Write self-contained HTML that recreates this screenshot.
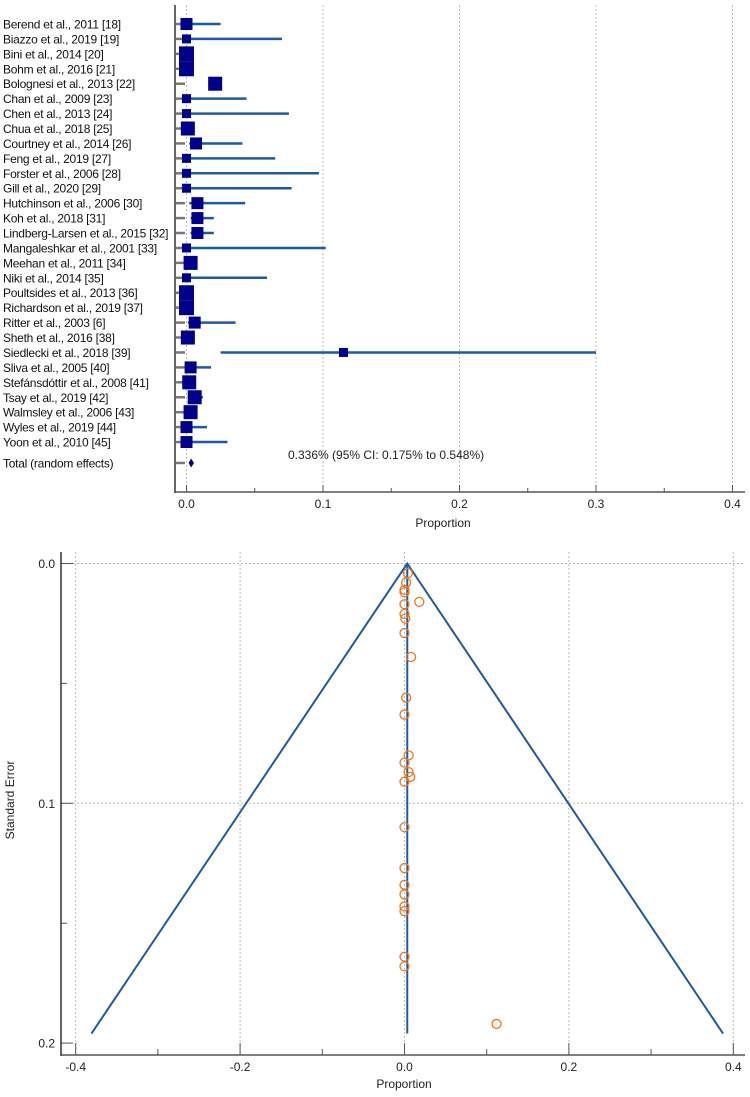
<!DOCTYPE html>
<html><head><meta charset="utf-8"><style>
html,body{margin:0;padding:0;background:#fff;}
svg{display:block;font-family:"Liberation Sans",Arial,sans-serif;}
</style></head><body>
<svg id="chart" width="750" height="1097" viewBox="0 0 750 1097">
<g id="forest"></g>
<g id="funnel"></g>
</svg>
<script>
// ---------- Forest plot data ----------
const studies = ["Berend et al., 2011 [18]","Biazzo et al., 2019 [19]","Bini et al., 2014 [20]","Bohm et al., 2016 [21]","Bolognesi et al., 2013 [22]","Chan et al., 2009 [23]","Chen et al., 2013 [24]","Chua et al., 2018 [25]","Courtney et al., 2014 [26]","Feng et al., 2019 [27]","Forster et al., 2006 [28]","Gill et al., 2020 [29]","Hutchinson et al., 2006 [30]","Koh et al., 2018 [31]","Lindberg-Larsen et al., 2015 [32]","Mangaleshkar et al., 2001 [33]","Meehan et al., 2011 [34]","Niki et al., 2014 [35]","Poultsides et al., 2013 [36]","Richardson et al., 2019 [37]","Ritter et al., 2003 [6]","Sheth et al., 2016 [38]","Siedlecki et al., 2018 [39]","Sliva et al., 2005 [40]","Stefánsdóttir et al., 2008 [41]","Tsay et al., 2019 [42]","Walmsley et al., 2006 [43]","Wyles et al., 2019 [44]","Yoon et al., 2010 [45]"];
const estimates = [0,0,0,0,0.021,0,0,0.001,0.007,0,0,0,0.008,0.008,0.008,0,0.003,0,0,0,0.006,0.001,0.115,0.003,0.002,0.006,0.003,0,0];
const lowerCI = [0,0,0,0,0.017,0,0,0,0.002,0,0,0,0.002,0.003,0.003,0,0.001,0,0,0,0.001,0,0.025,0.001,0,0.002,0.001,0,0];
const upperCI = [0.025,0.07,0.005,0.005,0.026,0.044,0.075,0.006,0.041,0.065,0.097,0.077,0.043,0.020,0.020,0.102,0.006,0.059,0.005,0.005,0.036,0.006,0.30,0.018,0.006,0.012,0.008,0.015,0.030];
const weights = [12,9,15,15,14,9,9,14,12,9,9,9,12,12,12,9,14,9,15,15,12,14,9,12,14,14,14,12,12];
const pooled = [0.00336, 0.00175, 0.00548];
const forestTicks = [0.0,0.1,0.2,0.3,0.4];

// ---------- Funnel plot data ----------
const funnelX = [0.004,0.002,0.0,0.0,0.018,0.0,0.0,0.001,0.0,0.008,0.002,0.0,0.005,0.0,0.005,0.007,0.0,0.0,0.0,0.0,0.0,0.0,0.0,0.0,0.0,0.112];
const funnelSE = [0.004,0.008,0.011,0.012,0.016,0.017,0.021,0.023,0.029,0.039,0.056,0.063,0.080,0.083,0.087,0.089,0.091,0.110,0.127,0.134,0.138,0.143,0.145,0.164,0.168,0.192];
const funnelMaxSE = 0.196;
const funnelXTicks = [-0.4,-0.2,0.0,0.2,0.4];
const funnelYTicks = [0.0,0.1,0.2];

const NS="http://www.w3.org/2000/svg";
function mk(parent,tag,attrs,text){const e=document.createElementNS(NS,tag);for(const k in attrs)e.setAttribute(k,attrs[k]);if(text!==undefined)e.textContent=text;parent.appendChild(e);return e;}

// ----- forest -----
const F=document.getElementById('forest');
const fx=v=>186.5+v*1365;
const fy=i=>24+i*14.93;
const fTop=5, fBot=492, fLeft=175, fRight=745;
forestTicks.forEach((t,i)=>{
  const g=mk(F,'line',{x1:fx(t),x2:fx(t),y1:fTop,y2:fBot,stroke:'#bbb','stroke-dasharray':'2,2','stroke-width':1});
  
  
  const tk=mk(F,'line',{x1:fx(t),x2:fx(t),y1:fBot,y2:fBot-7,stroke:'#555','stroke-width':1});
  
  
  const m=mk(F,'line',{x1:fx(t+0.05),x2:fx(t+0.05),y1:fBot,y2:fBot-4,stroke:'#555','stroke-width':1});
  
  
  const l=mk(F,'text',{x:fx(t),y:fBot+16,'text-anchor':'middle','font-size':12,fill:'#222'},t.toFixed(1));
  
  
});
const fa=mk(F,'line',{x1:fLeft,x2:fLeft,y1:fTop,y2:fBot+1,stroke:'#333','stroke-width':1.5});


const fb=mk(F,'line',{x1:fLeft,x2:fRight,y1:fBot,y2:fBot,stroke:'#555','stroke-width':1.5});


const fxt=mk(F,'text',{x:443,y:527,'text-anchor':'middle','font-size':12,fill:'#222'},'Proportion');



studies.forEach((s,i)=>{
  const y=fy(i);
  const lab=mk(F,'text',{x:3,y:y+4.5,'font-size':12,fill:'#111','letter-spacing':'-0.25'},s);
  
  
  const d=mk(F,'line',{x1:176,x2:185,y1:y,y2:y,stroke:'#777','stroke-width':2.5});
  
  
  const ci=mk(F,'line',{x1:fx(lowerCI[i]),x2:fx(upperCI[i]),y1:y,y2:y,stroke:'#1f5a9e','stroke-width':2.5});
  
  
  const w=weights[i];
  const b=mk(F,'rect',{x:fx(estimates[i])-w/2,y:y-w/2,width:w,height:w,fill:'#00008b'});
  
  
});
const ty=fy(29)+6;
const tl=mk(F,'text',{x:3,y:ty+4.5,'font-size':12,fill:'#111','letter-spacing':'-0.25'},'Total (random effects)');


const td=mk(F,'line',{x1:176,x2:185,y1:ty,y2:ty,stroke:'#777','stroke-width':2.5});


const dx=fx(pooled[0]), dl=Math.min(fx(pooled[1]),dx-2.5), dr=Math.max(fx(pooled[2]),dx+2.5);
const dia=mk(F,'polygon',{points:`${dl},${ty} ${dx},${ty-4.5} ${dr},${ty} ${dx},${ty+4.5}`,fill:'#00008b'});


const pt=mk(F,'text',{x:288,y:459,'font-size':12,fill:'#222'},'0.336% (95% CI: 0.175% to 0.548%)');



// ----- funnel -----
const G=document.getElementById('funnel');
const gx=v=>404.5+v*822;
const gy=v=>563.5+v*2398;
const gTop=552,gBot=1055,gLeft=61,gRight=745;
funnelXTicks.forEach(t=>{
  const g=mk(G,'line',{x1:gx(t),x2:gx(t),y1:gTop,y2:gBot,stroke:'#bbb','stroke-dasharray':'2,2','stroke-width':1});
  
  
  const tk=mk(G,'line',{x1:gx(t),x2:gx(t),y1:gBot,y2:gBot-12,stroke:'#555','stroke-width':1});
  
  
  if(t<0.4){const m=mk(G,'line',{x1:gx(t+0.1),x2:gx(t+0.1),y1:gBot,y2:gBot-6,stroke:'#555','stroke-width':1});
  
  }
  const l=mk(G,'text',{x:gx(t),y:gBot+16,'text-anchor':'middle','font-size':12,fill:'#222'},t.toFixed(1));
  
  
});
funnelYTicks.forEach(t=>{
  if(t<0.2){const g=mk(G,'line',{x1:gLeft,x2:gRight,y1:gy(t),y2:gy(t),stroke:'#bbb','stroke-dasharray':'2,2','stroke-width':1});
  
  
  const m=mk(G,'line',{x1:gLeft,x2:gLeft+6,y1:gy(t+0.05),y2:gy(t+0.05),stroke:'#555','stroke-width':1});
  
  }
  const tk=mk(G,'line',{x1:gLeft,x2:gLeft+12,y1:gy(t),y2:gy(t),stroke:'#555','stroke-width':1});
  
  
  const l=mk(G,'text',{x:gLeft-6,y:gy(t)+4.5,'text-anchor':'end','font-size':12,fill:'#222'},t.toFixed(1));
  
  
});
const ga=mk(G,'line',{x1:gLeft,x2:gLeft,y1:gTop,y2:gBot+1,stroke:'#333','stroke-width':1.5});


const gb=mk(G,'line',{x1:gLeft,x2:gRight,y1:gBot,y2:gBot,stroke:'#555','stroke-width':1.5});


const gxt=mk(G,'text',{x:404,y:1088,'text-anchor':'middle','font-size':12,fill:'#222'},'Proportion');


const gyt=mk(G,'text',{x:14,y:800,'text-anchor':'middle','font-size':12,fill:'#222',transform:'rotate(-90 14 800)'},'Standard Error');



const c=pooled[0];
const fl=mk(G,'polyline',{points:`${gx(c-1.96*funnelMaxSE)},${gy(funnelMaxSE)} ${gx(c)},${gy(0)} ${gx(c+1.96*funnelMaxSE)},${gy(funnelMaxSE)}`,fill:'none',stroke:'#1f5a9e','stroke-width':2});


const cl=mk(G,'line',{x1:gx(c),x2:gx(c),y1:gy(0),y2:gy(funnelMaxSE),stroke:'#1f5a9e','stroke-width':2});


funnelX.forEach((v,i)=>{
  const p=mk(G,'circle',{cx:gx(v),cy:gy(funnelSE[i]),r:4.5,fill:'none',stroke:'#e87722','stroke-width':1.3});
  
  
});
</script>
</body></html>
